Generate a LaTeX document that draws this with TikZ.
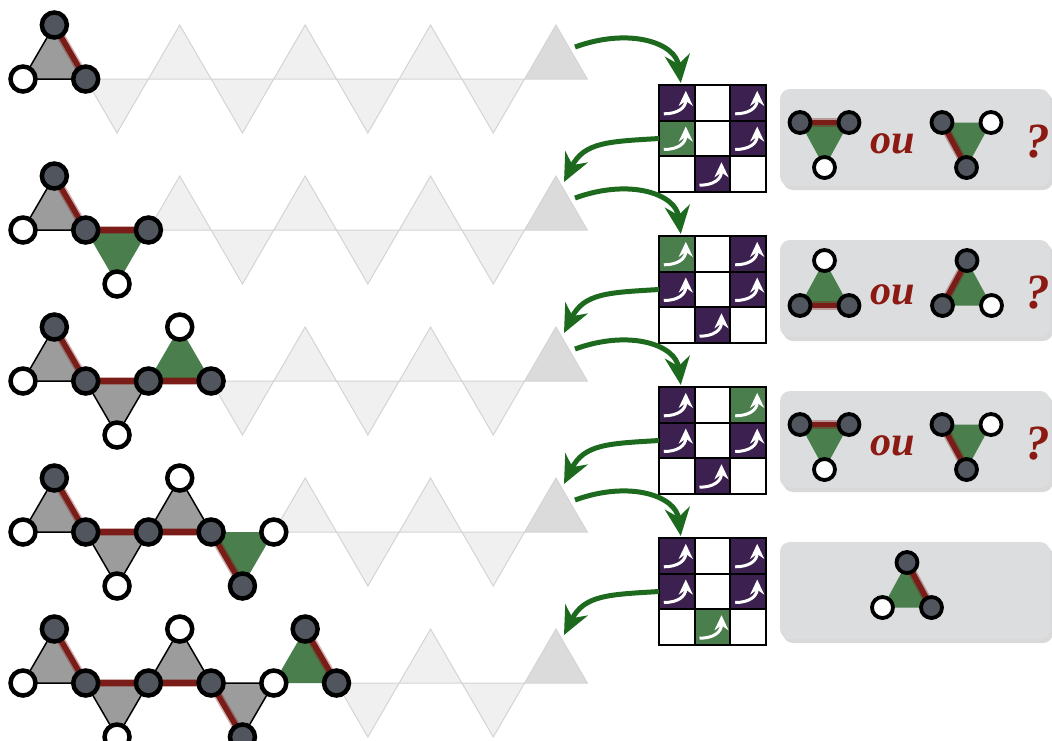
\documentclass[tikz,border=0pt]{standalone}
\usepackage{fontspec}
\newfontfamily\wordfont{Liberation Serif}
\usetikzlibrary{arrows.meta,shadows}

\definecolor{vgray}{HTML}{50555E}
\definecolor{trigray}{HTML}{9C9C9C}
\definecolor{trigreen}{HTML}{4A7E4C}
\definecolor{bondred}{HTML}{7A1D18}
\definecolor{cellpurple}{HTML}{3C2150}
\definecolor{arrowgreen}{HTML}{1D6A1E}
\definecolor{boxgray}{HTML}{DCDDDF}
\definecolor{textred}{HTML}{8A1A12}

\pgfdeclarelayer{strip}
\pgfdeclarelayer{bonds}
\pgfsetlayers{strip,bonds,main}

\tikzset{
  vdark/.style={circle,draw=black,line width=0.45mm,fill=vgray,minimum size=2.5mm,inner sep=0pt},
  vwhite/.style={vdark,fill=white},
  sdark/.style={vdark,line width=0.38mm,minimum size=2.1mm},
  swhite/.style={sdark,fill=white},
  graytri/.style={fill=trigray,draw=black,line width=0.15mm},
  greentri/.style={fill=trigreen},
  faintri/.style={fill=black!6,draw=black!17,line width=0.1mm},
  lastri/.style={fill=black!14,draw=black!17,line width=0.1mm},
  redbond/.style={draw=bondred,line width=0.55mm,preaction={draw=bondred,line width=0.85mm,opacity=0.35}},
  cellP/.style={draw=black,line width=0.22mm,fill=cellpurple,minimum size=3.57mm,inner sep=0pt,outer sep=0pt},
  cellG/.style={cellP,fill=trigreen},
  cellW/.style={cellP,fill=white},
  cellarrow/.style={white,line width=0.3mm,-{Stealth[length=1.5mm,width=1.4mm]}},
  choicebox/.style={fill=boxgray,rounded corners=1mm,minimum width=27mm,minimum height=9.7mm,
    drop shadow={shadow xshift=0.3mm,shadow yshift=-0.4mm,opacity=0.3}},
  sketch/.style={arrowgreen,line width=0.5mm,-{Stealth[length=2.8mm,width=2.5mm]}},
  word/.style={text=textred,font=\wordfont\fontsize{12}{14}\selectfont\bfseries\itshape,inner sep=0pt},
  quest/.style={word,font=\wordfont\fontsize{14}{16}\selectfont\bfseries\itshape}
}

\begin{document}
\begin{tikzpicture}[x=0.1mm,y=-0.1mm]
\useasboundingbox (0,0) rectangle (1052,740);

% chains, one row per step
\foreach \k in {0,...,4}{
  \pgfmathsetmacro\yb{79+151*\k}
  \pgfmathtruncatemacro\n{\k+1}
  \pgfmathtruncatemacro\m{\k+2}
  % vertices
  \foreach \j/\s in {0/vwhite,1/vdark,2/vdark,3/vdark,4/vwhite,5/vdark}{
    \ifnum\j>\n\else
      \node[\s] (r\k-b\j) at (23+62.7*\j,\yb) {};
    \fi
  }
  \foreach \i/\s in {1/vdark,2/vwhite,3/vwhite,4/vdark,5/vdark}{
    \ifnum\i>\n\else
      \ifodd\i\relax \pgfmathsetmacro\ay{\yb-54}\else\pgfmathsetmacro\ay{\yb+54}\fi
      \node[\s] (r\k-a\i) at (62.7*\i-8.35,\ay) {};
    \fi
  }
  % triangles and bonds, the newest one in green
  \begin{pgfonlayer}{bonds}
    \foreach \i in {1,...,\n}{
      \pgfmathtruncatemacro\h{\i-1}
      \def\tst{graytri}
      \ifnum\i=\n \ifnum\k>0 \def\tst{greentri}\fi\fi
      \path[\tst] (r\k-b\h.center) -- (r\k-a\i.center) -- (r\k-b\i.center) -- cycle;
    }
    \foreach \i/\p/\q in {1/a1/b1,2/b1/b2,3/b2/b3,4/b3/a4,5/a5/b5}{
      \ifnum\i>\n\else
        \draw[redbond] (r\k-\p.center) -- (r\k-\q.center);
      \fi
    }
  \end{pgfonlayer}
  % free places
  \begin{pgfonlayer}{strip}
    \foreach \i in {\m,...,9}{
      \ifodd\i\relax \pgfmathsetmacro\ay{\yb-54}\else\pgfmathsetmacro\ay{\yb+54}\fi
      \ifnum\i=9 \def\tst{lastri}\else\def\tst{faintri}\fi
      \path[\tst] (62.7*\i-39.7,\yb) -- (62.7*\i-8.35,\ay) -- (62.7*\i+23,\yb) -- cycle;
    }
  \end{pgfonlayer}
  \coordinate (r\k-out) at (575,\yb-32);
  \coordinate (r\k-in) at (564,\yb-48);
}

% grids
\foreach \k/\gr/\gc in {0/1/0,1/0/0,2/0/2,3/2/1}{
  \foreach \r/\col/\s in {0/0/P,0/1/W,0/2/P,1/0/P,1/1/W,1/2/P,2/0/W,2/1/P,2/2/W}{
    \def\cs{cell\s}
    \ifnum\r=\gr \ifnum\col=\gc \def\cs{cellG}\fi\fi
    \node[\cs] (g\k-\r\col) at (676.8+35.7*\col,102.8+151*\k+35.7*\r) {};
    \if\s W\else
      \draw[cellarrow,shift={(g\k-\r\col.center)}] (-13,11) .. controls (1,11) and (9,5) .. (9,-12);
    \fi
  }
}

% arrows between chains and grids
\foreach \k in {0,...,3}{
  \pgfmathtruncatemacro\nx{\k+1}
  \draw[sketch] (r\k-out) .. controls +(55,-20) and +(-5,-40) .. ([xshift=0.4mm,yshift=0.2mm]g\k-00.north);
  \draw[sketch] (g\k-10.west) .. controls +(-50,3) and +(20,-40) .. (r\nx-in);
}

% choice boxes
\begin{pgfonlayer}{strip}
  \foreach \k in {0,...,3}
    \node[choicebox] (box\k) at (915,137.5+151*\k) {};
\end{pgfonlayer}

% two down triangles
\foreach \k in {0,2}{
  \pgfmathsetmacro\cy{137.5+151*\k}
  \node[sdark] (c\k-1) at (800,\cy-15) {};
  \node[sdark] (c\k-2) at (849,\cy-15) {};
  \node[swhite] (c\k-3) at (824.5,\cy+30) {};
  \node[word] (ou\k) at (893,\cy+6) {ou};
  \node[sdark] (c\k-4) at (942,\cy-15) {};
  \node[swhite] (c\k-5) at (991,\cy-15) {};
  \node[sdark] (c\k-6) at (966.5,\cy+30) {};
  \node[quest] (q\k) at (1038,\cy+4) {?};
  \begin{pgfonlayer}{bonds}
    \path[greentri] (c\k-1.center) -- (c\k-2.center) -- (c\k-3.center) -- cycle;
    \path[greentri] (c\k-4.center) -- (c\k-5.center) -- (c\k-6.center) -- cycle;
    \draw[redbond] (c\k-1.center) -- (c\k-2.center);
    \draw[redbond] (c\k-4.center) -- (c\k-6.center);
  \end{pgfonlayer}
}

% two up triangles
\node[swhite] (c1-1) at (824.5,260.5) {};
\node[sdark] (c1-2) at (800,305.5) {};
\node[sdark] (c1-3) at (849,305.5) {};
\node[word] (ou1) at (893,294.5) {ou};
\node[sdark] (c1-4) at (967,260.5) {};
\node[sdark] (c1-5) at (942.5,305.5) {};
\node[swhite] (c1-6) at (991.5,305.5) {};
\node[quest] (q1) at (1038,292.5) {?};
\begin{pgfonlayer}{bonds}
  \path[greentri] (c1-1.center) -- (c1-2.center) -- (c1-3.center) -- cycle;
  \path[greentri] (c1-4.center) -- (c1-5.center) -- (c1-6.center) -- cycle;
  \draw[redbond] (c1-2.center) -- (c1-3.center);
  \draw[redbond] (c1-4.center) -- (c1-5.center);
\end{pgfonlayer}

% last one, no choice
\node[sdark] (c3-1) at (907,562.5) {};
\node[swhite] (c3-2) at (882.5,607.5) {};
\node[sdark] (c3-3) at (931.5,607.5) {};
\begin{pgfonlayer}{bonds}
  \path[greentri] (c3-1.center) -- (c3-2.center) -- (c3-3.center) -- cycle;
  \draw[redbond] (c3-1.center) -- (c3-3.center);
\end{pgfonlayer}
\end{tikzpicture}
\end{document}
